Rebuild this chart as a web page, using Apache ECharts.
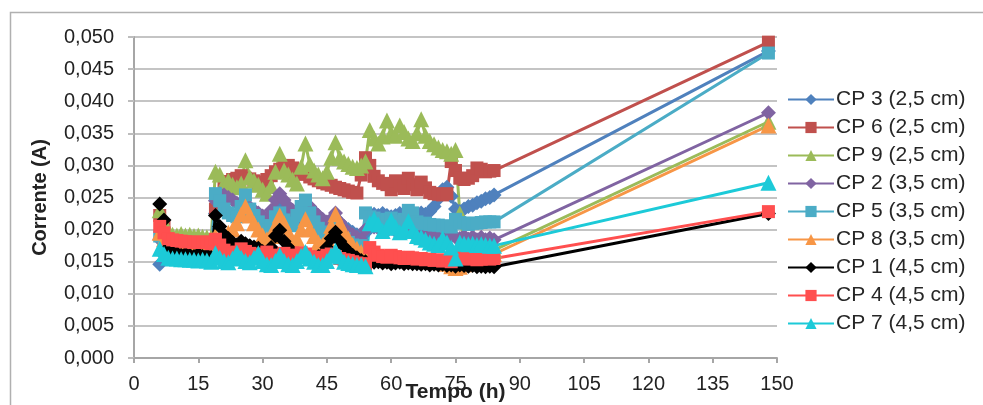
<!DOCTYPE html>
<html><head><meta charset="utf-8">
<script src="https://cdn.jsdelivr.net/npm/echarts@6/dist/echarts.min.js"></script>
<style>html,body{margin:0;padding:0;background:#fff}#c{width:983px;height:405px}</style>
</head><body><div id="c"></div>
<script>
var times = [6,7,8,9,10,11,12,13,14,15,16,17,18,19,20,21,22,23,24,25,26,27,28,29,30,31,32,33,34,35,36,37,38,39,40,41,42,43,44,45,46,47,48,49,50,51,52,53,54,55,56,57,58,59,60,61,62,63,64,65,66,67,68,69,70,71,72,73,74,75,76,77,78,79,80,81,82,83,84,148];
var xTicks = [0,15,30,45,60,75,90,105,120,135,150];
var yTicks = [0,0.005,0.010,0.015,0.020,0.025,0.030,0.035,0.040,0.045,0.050];

var cp3 = [.0146,.0160,.0163,.0162,.0162,.0161,.0161,.0160,.0160,.0160,
 .0160,.0159,.0159,.0225,.0235,.0232,.0228,.0224,.0222,.0224,
 .0226,.0222,.0218,.0214,.0210,.0208,.0214,.0224,.0232,.0226,
 .0220,.0215,.0212,.0218,.0226,.0220,.0214,.0210,.0206,.0208,
 .0214,.0218,.0210,.0205,.0200,.0196,.0192,.0190,.0195,.0222,
 .0224,.0222,.0225,.0222,.0220,.0222,.0225,.0224,.0226,.0224,
 .0222,.0226,.0224,.0228,.0236,.0248,.0262,.0266,.0252,.0232,
 .0228,.0232,.0236,.0238,.0242,.0244,.0248,.0250,.0254,
 .0478];
var cp6 = [.0222,.0205,.0184,.0182,.0181,.0180,.0180,.0179,.0179,.0178,
 .0178,.0177,.0176,.0232,.0252,.0268,.0275,.0278,.0280,.0284,
 .0280,.0279,.0276,.0272,.0274,.0278,.0284,.0290,.0294,.0298,
 .0300,.0296,.0292,.0288,.0286,.0282,.0279,.0276,.0273,.0271,
 .0269,.0266,.0264,.0262,.0260,.0258,.0257,.0285,.0312,.0300,
 .0283,.0276,.0272,.0270,.0262,.0276,.0268,.0264,.0280,.0270,
 .0262,.0274,.0265,.0258,.0256,.0255,.0254,.0256,.0306,.0292,
 .0280,.0278,.0280,.0284,.0296,.0294,.0290,.0291,.0292,
 .0492];
var cp9 = [.0230,.0212,.0194,.0192,.0191,.0193,.0191,.0192,.0190,.0191,
 .0189,.0188,.0187,.0290,.0286,.0272,.0276,.0270,.0266,.0272,
 .0308,.0282,.0276,.0270,.0262,.0256,.0268,.0290,.0318,.0292,
 .0286,.0278,.0272,.0298,.0334,.0302,.0292,.0286,.0280,.0290,
 .0312,.0336,.0312,.0306,.0302,.0298,.0296,.0300,.0306,.0355,
 .0342,.0334,.0345,.0370,.0350,.0346,.0362,.0352,.0342,.0338,
 .0350,.0372,.0346,.0338,.0333,.0328,.0324,.0322,.0318,.0324,
 .0225,.0178,.0172,.0170,.0169,.0168,.0168,.0167,.0168,
 .0368];
var cp2 = [.0185,.0178,.0171,.0170,.0169,.0169,.0168,.0168,.0167,.0167,
 .0167,.0166,.0166,.0245,.0256,.0254,.0250,.0246,.0241,.0237,
 .0240,.0235,.0230,.0226,.0221,.0216,.0230,.0246,.0256,.0246,
 .0236,.0230,.0222,.0232,.0242,.0236,.0228,.0222,.0216,.0212,
 .0216,.0226,.0212,.0202,.0196,.0192,.0188,.0184,.0200,.0206,
 .0204,.0202,.0200,.0198,.0202,.0198,.0196,.0199,.0197,.0195,
 .0196,.0194,.0195,.0192,.0193,.0190,.0192,.0189,.0190,.0188,
 .0186,.0190,.0185,.0189,.0184,.0188,.0184,.0187,.0184,
 .0382];
var cp5 = [.0190,.0180,.0173,.0172,.0171,.0171,.0170,.0170,.0170,.0169,
 .0169,.0168,.0168,.0256,.0245,.0232,.0226,.0222,.0220,.0236,
 .0254,.0232,.0222,.0212,.0206,.0200,.0206,.0220,.0226,.0215,
 .0210,.0206,.0222,.0236,.0246,.0226,.0212,.0202,.0196,.0192,
 .0196,.0206,.0192,.0186,.0180,.0176,.0172,.0175,.0226,.0220,
 .0218,.0215,.0213,.0216,.0218,.0213,.0210,.0216,.0230,.0226,
 .0212,.0209,.0210,.0208,.0207,.0207,.0206,.0205,.0204,.0216,
 .0211,.0210,.0208,.0210,.0210,.0211,.0212,.0212,.0212,
 .0475];
var cp8 = [.0195,.0185,.0178,.0177,.0177,.0176,.0176,.0176,.0175,.0175,
 .0175,.0174,.0174,.0190,.0186,.0190,.0195,.0200,.0210,.0224,
 .0236,.0222,.0210,.0200,.0191,.0185,.0190,.0206,.0222,.0210,
 .0196,.0182,.0186,.0200,.0216,.0201,.0190,.0180,.0176,.0186,
 .0206,.0224,.0210,.0196,.0186,.0176,.0170,.0165,.0160,.0158,
 .0157,.0156,.0157,.0155,.0156,.0155,.0154,.0155,.0153,.0154,
 .0153,.0152,.0153,.0151,.0152,.0150,.0149,.0147,.0143,.0140,
 .0142,.0146,.0150,.0153,.0155,.0156,.0158,.0160,.0162,
 .0362];
var cp1 = [.0240,.0215,.0172,.0165,.0163,.0160,.0162,.0160,.0158,.0162,
 .0158,.0160,.0157,.0222,.0205,.0192,.0186,.0180,.0176,.0182,
 .0178,.0175,.0173,.0171,.0166,.0160,.0172,.0190,.0199,.0182,
 .0172,.0165,.0160,.0158,.0158,.0157,.0156,.0158,.0162,.0172,
 .0186,.0196,.0182,.0173,.0166,.0160,.0156,.0152,.0150,.0150,
 .0149,.0150,.0148,.0149,.0147,.0148,.0149,.0147,.0148,.0147,
 .0147,.0146,.0147,.0145,.0146,.0145,.0146,.0144,.0145,.0143,
 .0145,.0144,.0143,.0144,.0142,.0143,.0142,.0143,.0142,
 .0225];
var cp4 = [.0205,.0195,.0186,.0184,.0183,.0182,.0181,.0181,.0180,.0180,
 .0181,.0180,.0178,.0185,.0176,.0168,.0164,.0162,.0165,.0170,
 .0166,.0163,.0161,.0160,.0162,.0165,.0160,.0158,.0160,.0163,
 .0160,.0157,.0160,.0164,.0162,.0158,.0156,.0155,.0157,.0160,
 .0162,.0158,.0155,.0153,.0152,.0150,.0148,.0147,.0146,.0172,
 .0165,.0160,.0158,.0157,.0160,.0158,.0156,.0155,.0157,.0156,
 .0154,.0155,.0153,.0154,.0152,.0153,.0151,.0152,.0150,.0155,
 .0157,.0155,.0154,.0155,.0153,.0154,.0155,.0154,.0155,
 .0228];
var cp7 = [.0170,.0162,.0156,.0155,.0155,.0154,.0154,.0153,.0153,.0152,
 .0153,.0152,.0150,.0163,.0156,.0151,.0149,.0155,.0164,.0156,
 .0151,.0149,.0156,.0163,.0151,.0146,.0145,.0151,.0160,.0151,
 .0146,.0145,.0151,.0159,.0165,.0155,.0150,.0145,.0145,.0151,
 .0160,.0167,.0158,.0150,.0148,.0146,.0145,.0145,.0143,.0210,
 .0216,.0208,.0198,.0203,.0214,.0204,.0196,.0200,.0213,.0198,
 .0190,.0188,.0184,.0180,.0178,.0176,.0186,.0180,.0172,.0155,
 .0180,.0178,.0177,.0178,.0176,.0177,.0176,.0175,.0175,
 .0273];

var seriesDefs = [
  {name:'CP 3 (2,5 cm)', data:cp3, color:'#4F81BD', symbol:'diamond'},
  {name:'CP 6 (2,5 cm)', data:cp6, color:'#C0504D', symbol:'rect'},
  {name:'CP 9 (2,5 cm)', data:cp9, color:'#9BBB59', symbol:'triangle'},
  {name:'CP 2 (3,5 cm)', data:cp2, color:'#8064A2', symbol:'diamond'},
  {name:'CP 5 (3,5 cm)', data:cp5, color:'#4BACC6', symbol:'rect'},
  {name:'CP 8 (3,5 cm)', data:cp8, color:'#F79646', symbol:'triangle'},
  {name:'CP 1 (4,5 cm)', data:cp1, color:'#000000', symbol:'diamond'},
  {name:'CP 4 (4,5 cm)', data:cp4, color:'#FF4F4F', symbol:'rect'},
  {name:'CP 7 (4,5 cm)', data:cp7, color:'#1CCAD8', symbol:'triangle'}
];

var FONT = 'Liberation Sans, Arial, sans-serif';
var chart = echarts.init(document.getElementById('c'), null, {renderer:'canvas'});
var fmt = function(v){ return v.toFixed(3).replace('.', ','); };

chart.setOption({
  animation:false,
  backgroundColor:'#fff',
  graphic:[{type:'rect', left:8, top:10, shape:{width:1000, height:500}, style:{fill:null, stroke:'#b0b0b0', lineWidth:1.5}, silent:true, z:-10}],
  grid:{left:134, right:206, top:37, bottom:47, containLabel:false, outerBoundsMode:'none'},
  xAxis:{type:'value', min:xTicks[0], max:xTicks[xTicks.length-1], interval:15,
    name:'Tempo (h)', nameLocation:'middle', nameGap:24, nameMoveOverlap:false,
    nameTextStyle:{fontFamily:FONT, fontWeight:'bold', fontSize:21, color:'#222'},
    axisLine:{lineStyle:{color:'#a6a6a6', width:2}},
    axisTick:{show:true, length:5, lineStyle:{color:'#a6a6a6', width:2}},
    axisLabel:{fontFamily:FONT, fontSize:20, color:'#222', margin:16},
    splitLine:{show:false}},
  yAxis:{type:'value', min:yTicks[0], max:yTicks[yTicks.length-1], interval:0.005,
    name:'Corrente (A)', nameLocation:'middle', nameGap:84, nameMoveOverlap:false,
    nameTextStyle:{fontFamily:FONT, fontWeight:'bold', fontSize:20, color:'#222'},
    axisLine:{show:true, lineStyle:{color:'#a6a6a6', width:2}},
    axisTick:{show:true, length:6, lineStyle:{color:'#bdbdbd', width:2}},
    axisLabel:{fontFamily:FONT, fontSize:20, color:'#222', margin:20, formatter:fmt},
    splitLine:{lineStyle:{color:'#c4c4c4', width:2}}},
  legend:{orient:'vertical', left:782, top:84, itemWidth:46, itemHeight:14, itemGap:7,
    textStyle:{fontFamily:FONT, fontSize:21, color:'#262626', lineHeight:21, padding:[0,0,0,-3]},
    data:seriesDefs.map(function(s){return s.name;})},
  series:seriesDefs.map(function(s){
    return {name:s.name, type:'line', data:times.map(function(t,i){return [t, s.data[i]];}),
      symbol:s.symbol, symbolSize:s.symbol==='rect'?13:(s.symbol==='triangle'?16:15),
      showAllSymbol:true,
      lineStyle:{color:s.color, width:3}, itemStyle:{color:s.color, borderWidth:0},
      emphasis:{disabled:true}};
  })
});
</script></body></html>
